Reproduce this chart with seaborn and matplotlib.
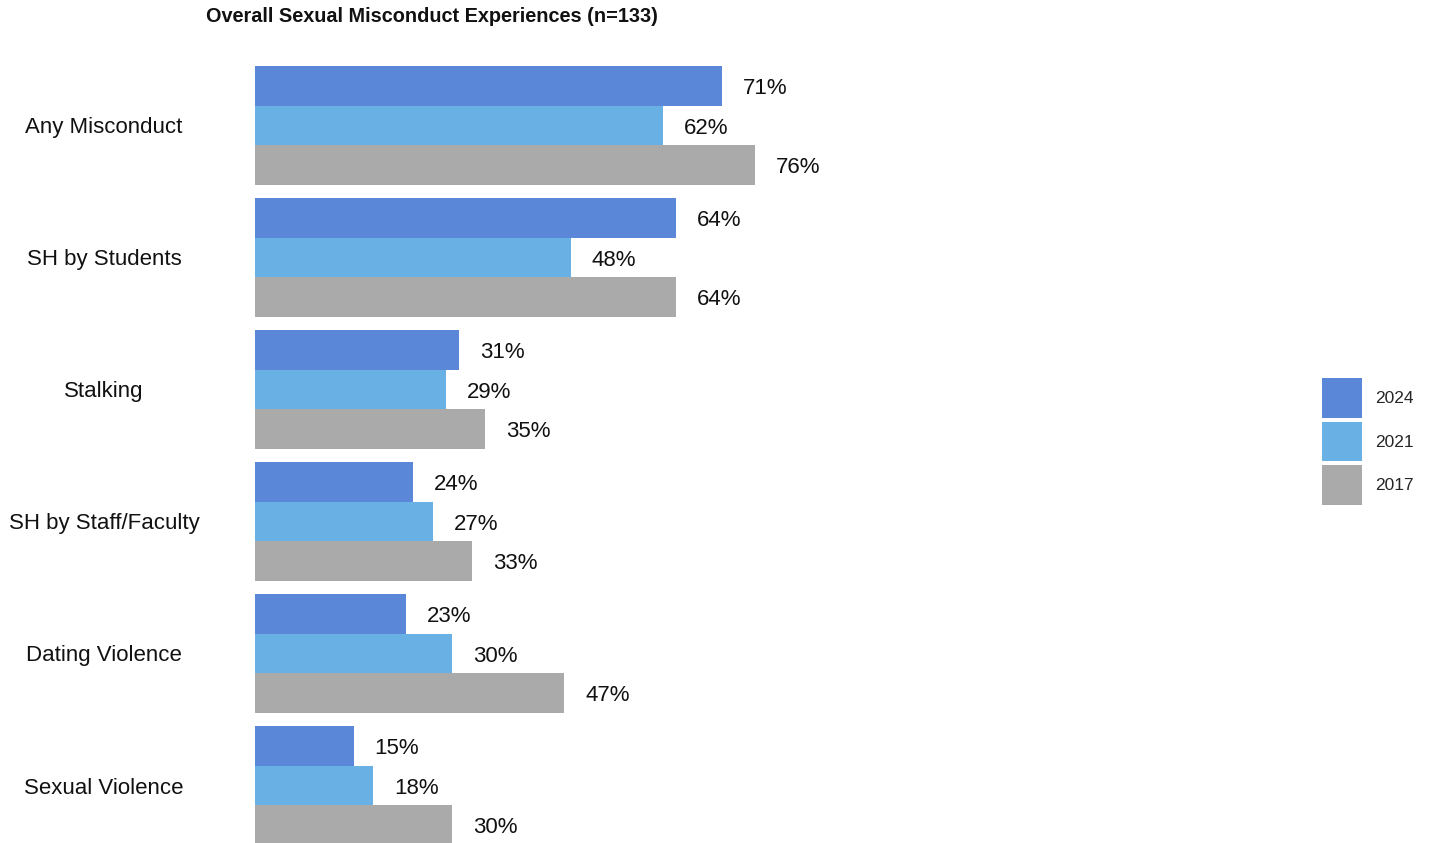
import matplotlib
matplotlib.use("Agg")
import matplotlib.pyplot as plt
import matplotlib.transforms as mtransforms
from matplotlib.patches import Patch
import seaborn as sns
import pandas as pd

# Survey categories and percentages per survey year
categories = ["Any Misconduct", "SH by Students", "Stalking",
              "SH by Staff/Faculty", "Dating Violence", "Sexual Violence"]
years = ["2024", "2021", "2017"]
values_2024 = [71, 64, 31, 24, 23, 15]
values_2021 = [62, 48, 29, 27, 30, 18]
values_2017 = [76, 64, 35, 33, 47, 30]
colors = ["#5B87D8", "#69B1E4", "#AAAAAA"]

df = pd.DataFrame({
    "category": categories * 3,
    "year": [years[0]] * 6 + [years[1]] * 6 + [years[2]] * 6,
    "value": values_2024 + values_2021 + values_2017,
})

sns.set_theme(style="white")
plt.rcParams["font.family"] = ["Liberation Sans", "DejaVu Sans"]

W, H = 1429, 843
fig = plt.figure(figsize=(W / 100, H / 100), dpi=100)
left_px, right_px = 255, 1300
ax = fig.add_axes([left_px / W, 0, (right_px - left_px) / W, 1])

sns.barplot(data=df, x="value", y="category", hue="year", order=categories,
            hue_order=years, palette=colors, orient="h", width=0.9,
            saturation=1, ax=ax, legend=False, errorbar=None, linewidth=0)

px_per_unit = 6.58
ax.set_xlim(0, (right_px - left_px) / px_per_unit)
ax.set_ylim((H - 125.5) / 132, -125.5 / 132)

# Value labels to the right of each bar, nudged slightly down so the
# glyphs sit optically centred on the bar
for cont in ax.containers:
    texts = ax.bar_label(cont, labels=[f"{v:.0f}%" for v in cont.datavalues],
                         padding=15, fontsize=16, color="#111111")
    for t in texts:
        t.xyann = (t.xyann[0], t.xyann[1] - 2.0)

ax.set_xlabel("")
ax.set_ylabel("")
ax.set_xticks([])
ax.set_yticks([])
for s in ax.spines.values():
    s.set_visible(False)

# Category names centred in the left margin
nudge = mtransforms.ScaledTranslation(0, -2.5 / 100, fig.dpi_scale_trans)
trans = mtransforms.blended_transform_factory(fig.transFigure, ax.transData) + nudge
for i, cat in enumerate(categories):
    ax.text(104 / W, i, cat, transform=trans, ha="center", va="center",
            fontsize=16, color="#111111")

fig.text(206 / W, 1 - 17 / H, "Overall Sexual Misconduct Experiences (n=133)",
         ha="left", va="center", fontsize=14.3, fontweight="bold", color="#111111")

handles = [Patch(facecolor=c, edgecolor="none", label=y) for c, y in zip(colors, years)]
fig.legend(handles=handles, loc="upper left",
           bbox_to_anchor=(1322 / W, 1 - 378 / H), bbox_transform=fig.transFigure,
           frameon=False, fontsize=12.5, handlelength=2.3, handleheight=3.15,
           labelspacing=0.22, handletextpad=0.75, borderpad=0, borderaxespad=0)

fig.savefig("out.png", dpi=100)
